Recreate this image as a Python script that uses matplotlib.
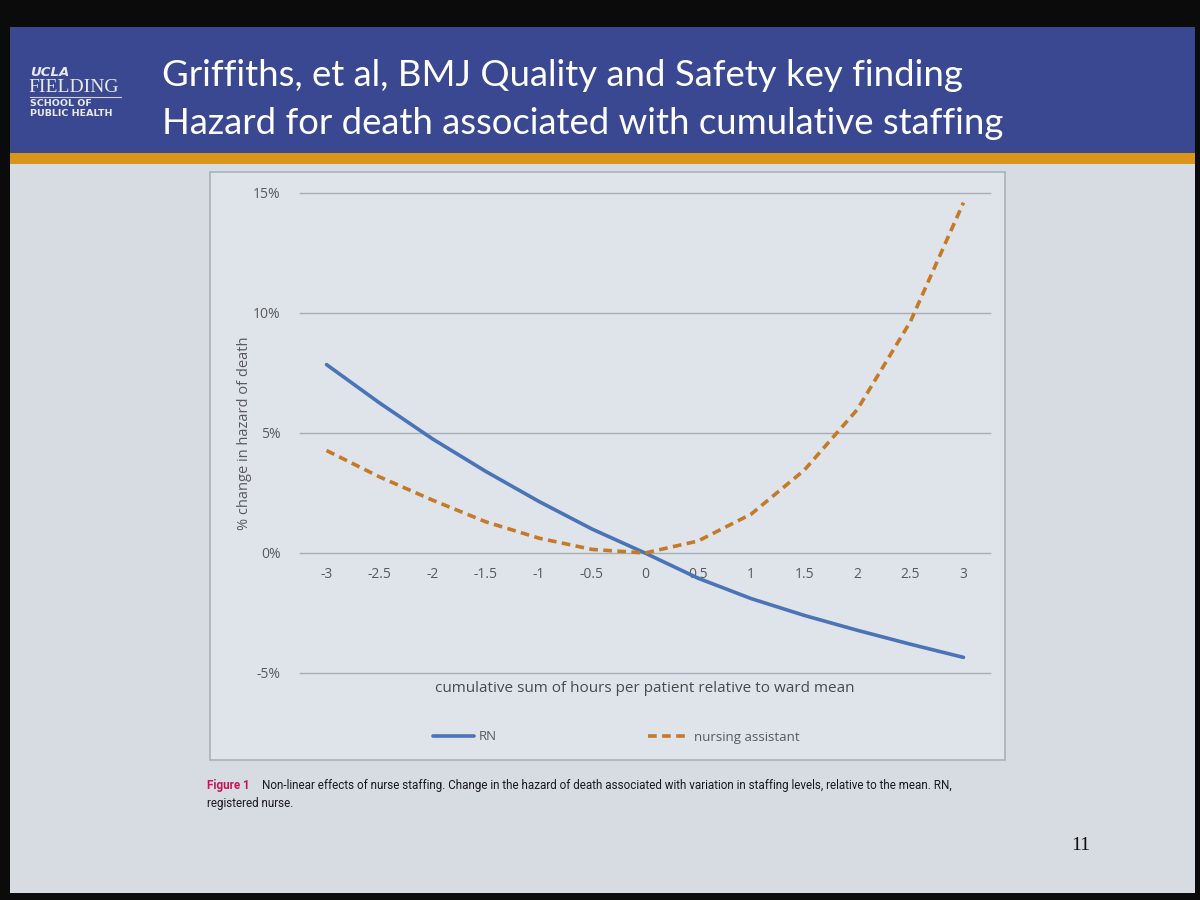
import matplotlib
matplotlib.use('Agg')
import matplotlib.pyplot as plt
from matplotlib.patches import Rectangle
from matplotlib.lines import Line2D

# ---- data ----
x_vals = [-3, -2.5, -2, -1.5, -1, -0.5, 0, 0.5, 1, 1.5, 2, 2.5, 3]
rn_vals = [7.85, 6.25, 4.75, 3.4, 2.15, 1.0, 0.0, -1.05, -1.9, -2.6, -3.22, -3.8, -4.35]
na_vals = [4.27, 3.17, 2.2, 1.3, 0.62, 0.15, 0.0, 0.5, 1.62, 3.45, 5.98, 9.64, 14.6]
series_names = ['RN', 'nursing assistant']
x_tick_labels = ['-3', '-2.5', '-2', '-1.5', '-1', '-0.5', '0', '0.5', '1', '1.5', '2', '2.5', '3']
y_ticks = [-5, 0, 5, 10, 15]
y_tick_labels = ['-5%', '0%', '5%', '10%', '15%']
title_lines = ['Griffiths, et al, BMJ Quality and Safety key finding',
               'Hazard for death associated with cumulative staffing']
x_label = 'cumulative sum of hours per patient relative to ward mean'
y_label = '% change in hazard of death'
caption_head = 'Figure 1'
caption_body = ('Non-linear effects of nurse staffing. Change in the hazard of death associated '
                'with variation in staffing levels, relative to the mean. RN,')
caption_line2 = 'registered nurse.'
page_number = '11'

W, H = 1200, 900
def fx(x):
    return x / W
def fy(y):
    return 1 - y / H

fig = plt.figure(figsize=(12, 9), dpi=100)
fig.patch.set_facecolor('#0b0b0b')

# slide body
fig.add_artist(Rectangle((fx(10), fy(893)), fx(1185), (893 - 27) / H,
                         transform=fig.transFigure, facecolor='#d6dce1', edgecolor='none', zorder=0))
# blue header
fig.add_artist(Rectangle((fx(10), fy(153)), fx(1185), (153 - 27) / H,
                         transform=fig.transFigure, facecolor='#3a4892', edgecolor='none', zorder=1))
# orange stripe
fig.add_artist(Rectangle((fx(10), fy(164)), fx(1185), (164 - 153) / H,
                         transform=fig.transFigure, facecolor='#d8951a', edgecolor='none', zorder=1))
# chart box
fig.add_artist(Rectangle((fx(210), fy(760)), (1005 - 210) / W, (760 - 172) / H,
                         transform=fig.transFigure, facecolor='#dee4e9', edgecolor='#aab1b7',
                         linewidth=1.2, zorder=1))

# title
for i, line in enumerate(title_lines):
    fig.text(fx(162), fy(75 + 48 * i), line, color='white', fontsize=26.3, family='Lato',
             ha='left', va='center', zorder=3)

# logo
fig.text(fx(30), fy(72), 'UCLA', color='#e8e8f0', fontsize=9.5, family='DejaVu Sans',
         weight='bold', style='italic', ha='left', va='center', zorder=3)
fig.text(fx(28), fy(88), 'FIELDING', color='#e8e8f0', fontsize=14, family='Liberation Serif',
         ha='left', va='center', zorder=3)
fig.add_artist(Line2D([fx(30), fx(121)], [fy(97), fy(97)], transform=fig.transFigure,
                      color='#d0d0dc', linewidth=0.8, zorder=3))
fig.text(fx(30), fy(104), 'SCHOOL OF', color='#e8e8f0', fontsize=6.8, family='DejaVu Sans',
         weight='bold', ha='left', va='center', zorder=3)
fig.text(fx(30), fy(113), 'PUBLIC HEALTH', color='#e8e8f0', fontsize=6.8, family='DejaVu Sans',
         weight='bold', ha='left', va='center', zorder=3)

# ---- chart ----
ax = fig.add_axes([fx(300), fy(673), (990 - 300) / W, (673 - 193) / H], zorder=2)
ax.patch.set_visible(False)
l1, = ax.plot(x_vals, rn_vals, color='#4a73b8', linewidth=2.6, solid_capstyle='round',
              label=series_names[0])
l2, = ax.plot(x_vals, na_vals, color='#c47a28', linewidth=2.6, linestyle=(0, (2.4, 1.5)),
              label=series_names[1])
ax.set_xlim(-3.25, 3.25)
ax.set_ylim(-5, 15)
ax.set_yticks(y_ticks)
ax.set_yticklabels(y_tick_labels)
ax.set_xticks(x_vals)
ax.set_xticklabels(x_tick_labels)
for s in ['top', 'right', 'left']:
    ax.spines[s].set_visible(False)
ax.spines['bottom'].set_position(('data', 0))
ax.spines['bottom'].set_visible(False)
ax.yaxis.grid(True, color='#a6adb4', linewidth=1.0)
for gl in ax.get_ygridlines():
    gl.set_clip_on(False)
ax.set_axisbelow(True)
ax.tick_params(axis='both', length=0, colors='#5a5a5a', labelsize=10)
ax.tick_params(axis='y', pad=14)
ax.tick_params(axis='x', pad=10)
for t in ax.get_xticklabels() + ax.get_yticklabels():
    t.set_family('Open Sans')
ax.set_ylabel(y_label, fontsize=10.5, color='#5a5a5a', family='Open Sans')
ax.yaxis.set_label_coords((252 - 300) / 690, 0.5)

fig.text(fx(645), fy(688), x_label, fontsize=11, color='#4a4a4a', family='Open Sans',
         ha='center', va='center', zorder=3)

fig.legend(handles=[l1, l2], loc='center', bbox_to_anchor=(fx(616), fy(737)), ncol=2,
           frameon=False, handlelength=3.1, handletextpad=0.35,
           columnspacing=11.5, labelcolor='#5a5a5a', prop={'family': 'Open Sans', 'size': 9.5})

# caption
cap_font = 'Roboto'
fig.text(fx(207), fy(786), caption_head, color='#cc1450', fontsize=8.4, weight='bold',
         family=cap_font, ha='left', va='center', zorder=3)
fig.text(fx(262), fy(786), caption_body, color='#1a1a1a', fontsize=8.4,
         family=cap_font, ha='left', va='center', zorder=3)
fig.text(fx(207), fy(803), caption_line2, color='#1a1a1a', fontsize=8.4,
         family=cap_font, ha='left', va='center', zorder=3)

fig.text(fx(1081), fy(845), page_number, color='#111111', fontsize=14,
         family='Liberation Serif', ha='center', va='center', zorder=3)

fig.savefig('out.png', dpi=100, facecolor=fig.get_facecolor())
